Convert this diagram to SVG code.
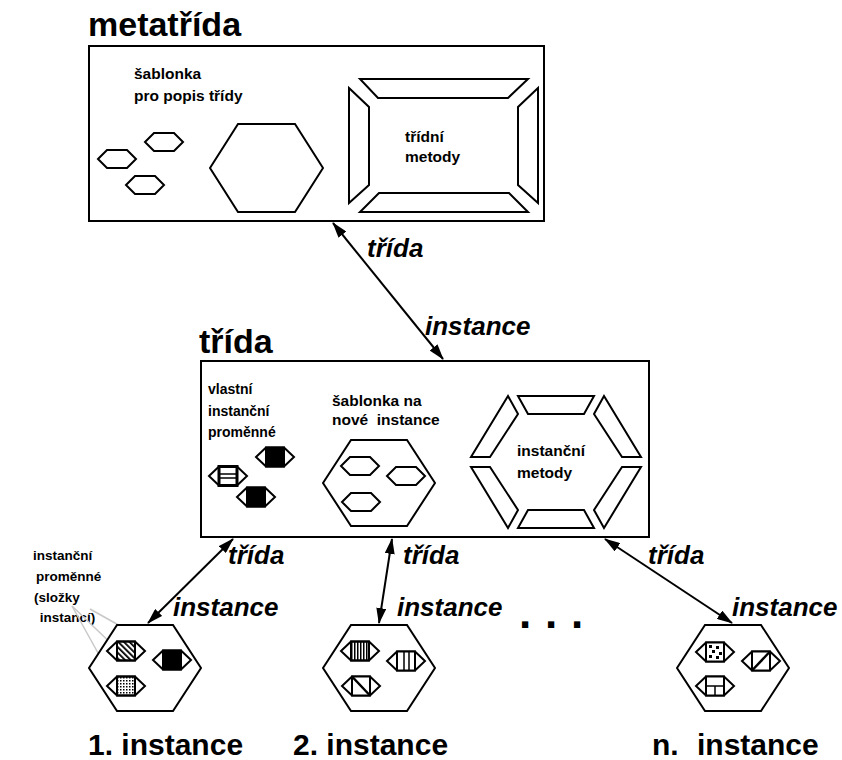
<svg xmlns="http://www.w3.org/2000/svg" width="842" height="760" viewBox="0 0 842 760">
<style>
.box{fill:none;stroke:#000;stroke-width:2}
.sh{fill:#fff;stroke:#000;stroke-width:2;stroke-linejoin:miter}
.t{font-family:"Liberation Sans",Arial,Helvetica,sans-serif;font-weight:bold;fill:#000}
.title{font-size:34px}
.lab{font-size:15.5px}
.lab2{font-size:14px}
.small{font-size:13.5px}
.conn{font-size:26px;font-style:italic}
.big{font-size:30px}
.edge{stroke:#000;stroke-width:2;fill:none;marker-start:url(#ah);marker-end:url(#ah)}
.gray{stroke:#c8c8c8;stroke-width:1.5;fill:none}
.in{stroke:#000;stroke-width:1.5;fill:none}
</style>
<defs>
<marker id="ah" viewBox="0 0 16 10" refX="15" refY="5" markerWidth="16" markerHeight="10" markerUnits="userSpaceOnUse" orient="auto-start-reverse">
<path d="M0,0 L16,5 L0,10 z" fill="#000"/>
</marker>
<polygon id="hx" points="-19,0 -10,-9 10,-9 19,0 10,9 -10,9" class="sh"/>
<polygon id="ih" points="-19,0 -9,-9.5 9,-9.5 19,0 9,9.5 -9,9.5" class="sh"/>
<polygon id="bh" points="-56,0 -28,-43 28,-43 56,0 28,43 -28,43" class="sh"/>
<pattern id="hatch" width="4" height="4" patternUnits="userSpaceOnUse" patternTransform="rotate(-45)">
<rect width="1.8" height="4" fill="#000"/>
</pattern>
<pattern id="dots" width="3" height="3" patternUnits="userSpaceOnUse">
<rect width="1.5" height="1.5" fill="#000"/>
</pattern>
<pattern id="vstr" width="3" height="4" patternUnits="userSpaceOnUse">
<rect width="1.5" height="4" fill="#000"/>
</pattern>
</defs>

<g id="metatrida">
<text class="t title" x="88" y="36">metatřída</text>
<rect class="box" x="89" y="46" width="455" height="175"/>
<text class="t lab" x="134" y="79">šablonka</text>
<text class="t lab" x="134" y="101">pro popis třídy</text>
<use href="#hx" x="164" y="142"/>
<use href="#hx" x="117" y="159"/>
<use href="#hx" x="145" y="185"/>
<polygon class="sh" points="210,168 238,124 295,124 323,168 295,212 238,212"/>
<polygon class="sh" points="360,79 528,79 508,98 378,98"/>
<polygon class="sh" points="360,212 528,212 509,193 379,193"/>
<polygon class="sh" points="349,88 369,107 369,185 349,203"/>
<polygon class="sh" points="538,88 518,107 518,185 538,203"/>
<text class="t lab" x="405" y="142">třídní</text>
<text class="t lab" x="405" y="162">metody</text>
</g>

<g id="trida">
<text class="t title" x="199" y="353">třída</text>
<rect class="box" x="201" y="361" width="448" height="176"/>
<text class="t lab2" x="208" y="394">vlastní</text>
<text class="t lab2" x="208" y="416">instanční</text>
<text class="t lab2" x="208" y="437">proměnné</text>
<g transform="translate(275,457)"><use href="#ih"/><rect x="-9" y="-9.5" width="18" height="19" fill="#000" stroke="#000" stroke-width="2"/></g>
<g transform="translate(228,476)"><use href="#ih"/><rect x="-9" y="-9.5" width="18" height="19" fill="#fff" stroke="#000" stroke-width="3"/><line class="in" x1="-9" y1="-2" x2="9" y2="-2"/><line class="in" x1="-9" y1="2" x2="9" y2="2"/></g>
<g transform="translate(256,497)"><use href="#ih"/><rect x="-9" y="-9.5" width="18" height="19" fill="#000" stroke="#000" stroke-width="2"/></g>
<text class="t lab" x="332" y="406">šablonka na</text>
<text class="t lab" x="332" y="425" xml:space="preserve">nové  instance</text>
<use href="#bh" x="379" y="483"/>
<use href="#hx" x="360" y="466"/>
<use href="#hx" x="406" y="476"/>
<use href="#hx" x="361" y="502"/>
<polygon class="sh" points="518,396 594,396 584,414 528,414"/>
<polygon class="sh" points="518,528 594,528 584,510 528,510"/>
<polygon class="sh" points="508,396 518,414 490,457 471,457"/>
<polygon class="sh" points="604,396 594,414 622,457 641,457"/>
<polygon class="sh" points="471,467 490,467 518,510 508,528"/>
<polygon class="sh" points="641,467 622,467 594,510 604,528"/>
<text class="t lab" x="517" y="456">instanční</text>
<text class="t lab" x="517" y="478">metody</text>
</g>

<g id="ivar-label">
<text class="t small" x="33" y="560">instanční</text>
<text class="t small" x="36" y="581">proměnné</text>
<text class="t small" x="34" y="602">(složky</text>
<text class="t small" x="36" y="622" xml:space="preserve"> instancí)</text>
<line class="gray" x1="72" y1="606" x2="118" y2="650"/>
<line class="gray" x1="72" y1="606" x2="113" y2="680"/>
<line class="gray" x1="90" y1="609" x2="163" y2="650"/>
</g>

<g id="instance1">
<use href="#bh" x="145" y="668"/>
<g transform="translate(126,651)"><use href="#ih"/><rect x="-9" y="-9.5" width="18" height="19" fill="url(#hatch)" stroke="#000" stroke-width="2"/></g>
<g transform="translate(172,660)"><use href="#ih"/><rect x="-9" y="-9.5" width="18" height="19" fill="#000" stroke="#000" stroke-width="2"/></g>
<g transform="translate(126,686)"><use href="#ih"/><rect x="-9" y="-9.5" width="18" height="19" fill="url(#dots)" stroke="#000" stroke-width="2"/></g>
<text class="t big" x="88" y="755">1. instance</text>
</g>

<g id="instance2">
<use href="#bh" x="379" y="668"/>
<g transform="translate(360,651)"><use href="#ih"/><rect x="-9" y="-9.5" width="18" height="19" fill="url(#vstr)" stroke="#000" stroke-width="2"/></g>
<g transform="translate(406,661)"><use href="#ih"/><rect x="-9" y="-9.5" width="18" height="19" fill="#fff" stroke="#000" stroke-width="2"/><line class="in" x1="-2" y1="-9.5" x2="-2" y2="9.5"/><line class="in" x1="3" y1="-9.5" x2="3" y2="9.5"/></g>
<g transform="translate(361,686)"><use href="#ih"/><rect x="-9" y="-9.5" width="18" height="19" fill="#fff" stroke="#000" stroke-width="2"/><line x1="-9" y1="-9.5" x2="9" y2="9.5" stroke="#000" stroke-width="2.5"/></g>
<text class="t big" x="293" y="755">2. instance</text>
</g>

<g id="ellipsis">
<text class="t" style="font-size:44px" x="519 545 571" y="628">...</text>
</g>

<g id="instanceN">
<use href="#bh" x="733" y="668"/>
<g transform="translate(715,652)"><use href="#ih"/><rect x="-9" y="-9.5" width="18" height="19" fill="#fff" stroke="#000" stroke-width="2"/><rect x="-6" y="-7" width="3" height="3"/><rect x="1" y="-6" width="3" height="3"/><rect x="-3" y="-2" width="3" height="3"/><rect x="4" y="0" width="3" height="3"/><rect x="-6" y="3" width="3" height="3"/><rect x="1" y="4" width="3" height="3"/></g>
<g transform="translate(761,661)"><use href="#ih"/><rect x="-9" y="-9.5" width="18" height="19" fill="#fff" stroke="#000" stroke-width="2"/><line x1="-9" y1="9.5" x2="9" y2="-9.5" stroke="#000" stroke-width="2.5"/></g>
<g transform="translate(715,686)"><use href="#ih"/><rect x="-9" y="-9.5" width="18" height="19" fill="#fff" stroke="#000" stroke-width="2"/><line class="in" x1="-9" y1="0" x2="9" y2="0"/><line class="in" x1="0" y1="0" x2="0" y2="9.5"/></g>
<text class="t big" x="652" y="755">n.<tspan x="697">instance</tspan></text>
</g>

<g id="connectors">
<line class="edge" x1="333" y1="223" x2="443" y2="359"/>
<line class="edge" x1="233" y1="539" x2="148" y2="623"/>
<line class="edge" x1="392" y1="539" x2="379" y2="623"/>
<line class="edge" x1="605" y1="539" x2="732" y2="623"/>
<text class="t conn" x="367" y="257">třída</text>
<text class="t conn" x="425" y="335">instance</text>
<text class="t conn" x="228" y="564">třída</text>
<text class="t conn" x="173" y="616">instance</text>
<text class="t conn" x="403" y="564">třída</text>
<text class="t conn" x="397" y="616">instance</text>
<text class="t conn" x="648" y="564">třída</text>
<text class="t conn" x="732" y="616">instance</text>
</g>
</svg>
